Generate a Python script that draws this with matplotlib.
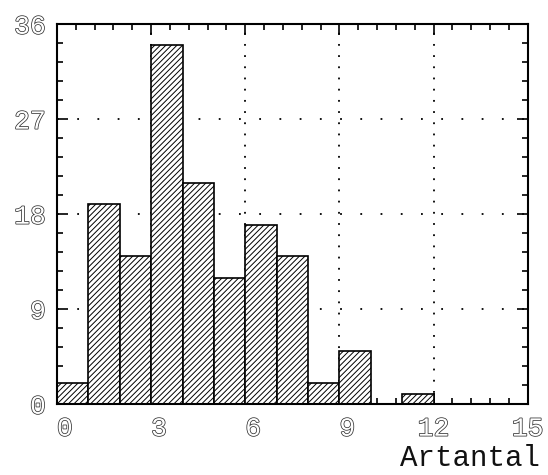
import matplotlib
matplotlib.use("Agg")
import matplotlib.pyplot as plt
import matplotlib.patheffects as pe
from matplotlib.ticker import MultipleLocator, FixedLocator, FixedFormatter

# antal per klass (klassbredd 1)
bin_edges = list(range(0, 16))
counts = [2, 19, 14, 34, 21, 12, 17, 14, 2, 5, 0, 1, 0, 0, 0]
x_ticks = [0, 3, 6, 9, 12, 15]
x_ticklabels = [" 0", " 3", " 6", " 9", "12", "15"]
y_ticks = [0, 9, 18, 27, 36]
y_ticklabels = ["0", "9", "18", "27", "36"]

plt.rcParams['hatch.linewidth'] = 0.7

fig = plt.figure(figsize=(5.48, 4.75), dpi=100)
ax = fig.add_axes([0.104, 0.149, 0.859, 0.80])

ax.bar(bin_edges[:-1], counts, width=1.0, align='edge', facecolor='white',
       edgecolor='black', linewidth=1.2, hatch='//////', zorder=2)

ax.set_xlim(0, 15)
ax.set_ylim(0, 36)

ax.xaxis.set_major_locator(FixedLocator(x_ticks))
ax.xaxis.set_major_formatter(FixedFormatter(x_ticklabels))
ax.yaxis.set_major_locator(FixedLocator(y_ticks))
ax.yaxis.set_major_formatter(FixedFormatter(y_ticklabels))
ax.xaxis.set_minor_locator(MultipleLocator(0.6))
ax.yaxis.set_minor_locator(MultipleLocator(1.8))

ax.tick_params(which='both', direction='in', top=True, right=True, width=1.2)
ax.tick_params(which='major', length=8)
ax.tick_params(which='minor', length=4)
ax.tick_params(axis='x', pad=9)
ax.tick_params(axis='y', pad=8)

# prickat rutnät under staplarna
ax.set_axisbelow(True)
ax.xaxis.grid(True, color='black', linewidth=1.3, linestyle=(0, (1, 5.2)))
ax.yaxis.grid(True, color='black', linewidth=1.3, linestyle=(0, (1, 10.2)))

for sp in ax.spines.values():
    sp.set_linewidth(1.5)

hollow = [pe.Stroke(linewidth=1.1, foreground='#333333'), pe.Normal()]
for lab in ax.get_xticklabels() + ax.get_yticklabels():
    lab.set_family('Liberation Mono')
    lab.set_fontsize(19)
    lab.set_color('white')
    lab.set_path_effects(hollow)

fig.text(0.985, 0.018, "Artantal", family='Liberation Mono', fontsize=21,
         ha='right', va='baseline', color='#111111')

fig.savefig("out.png", dpi=100)
